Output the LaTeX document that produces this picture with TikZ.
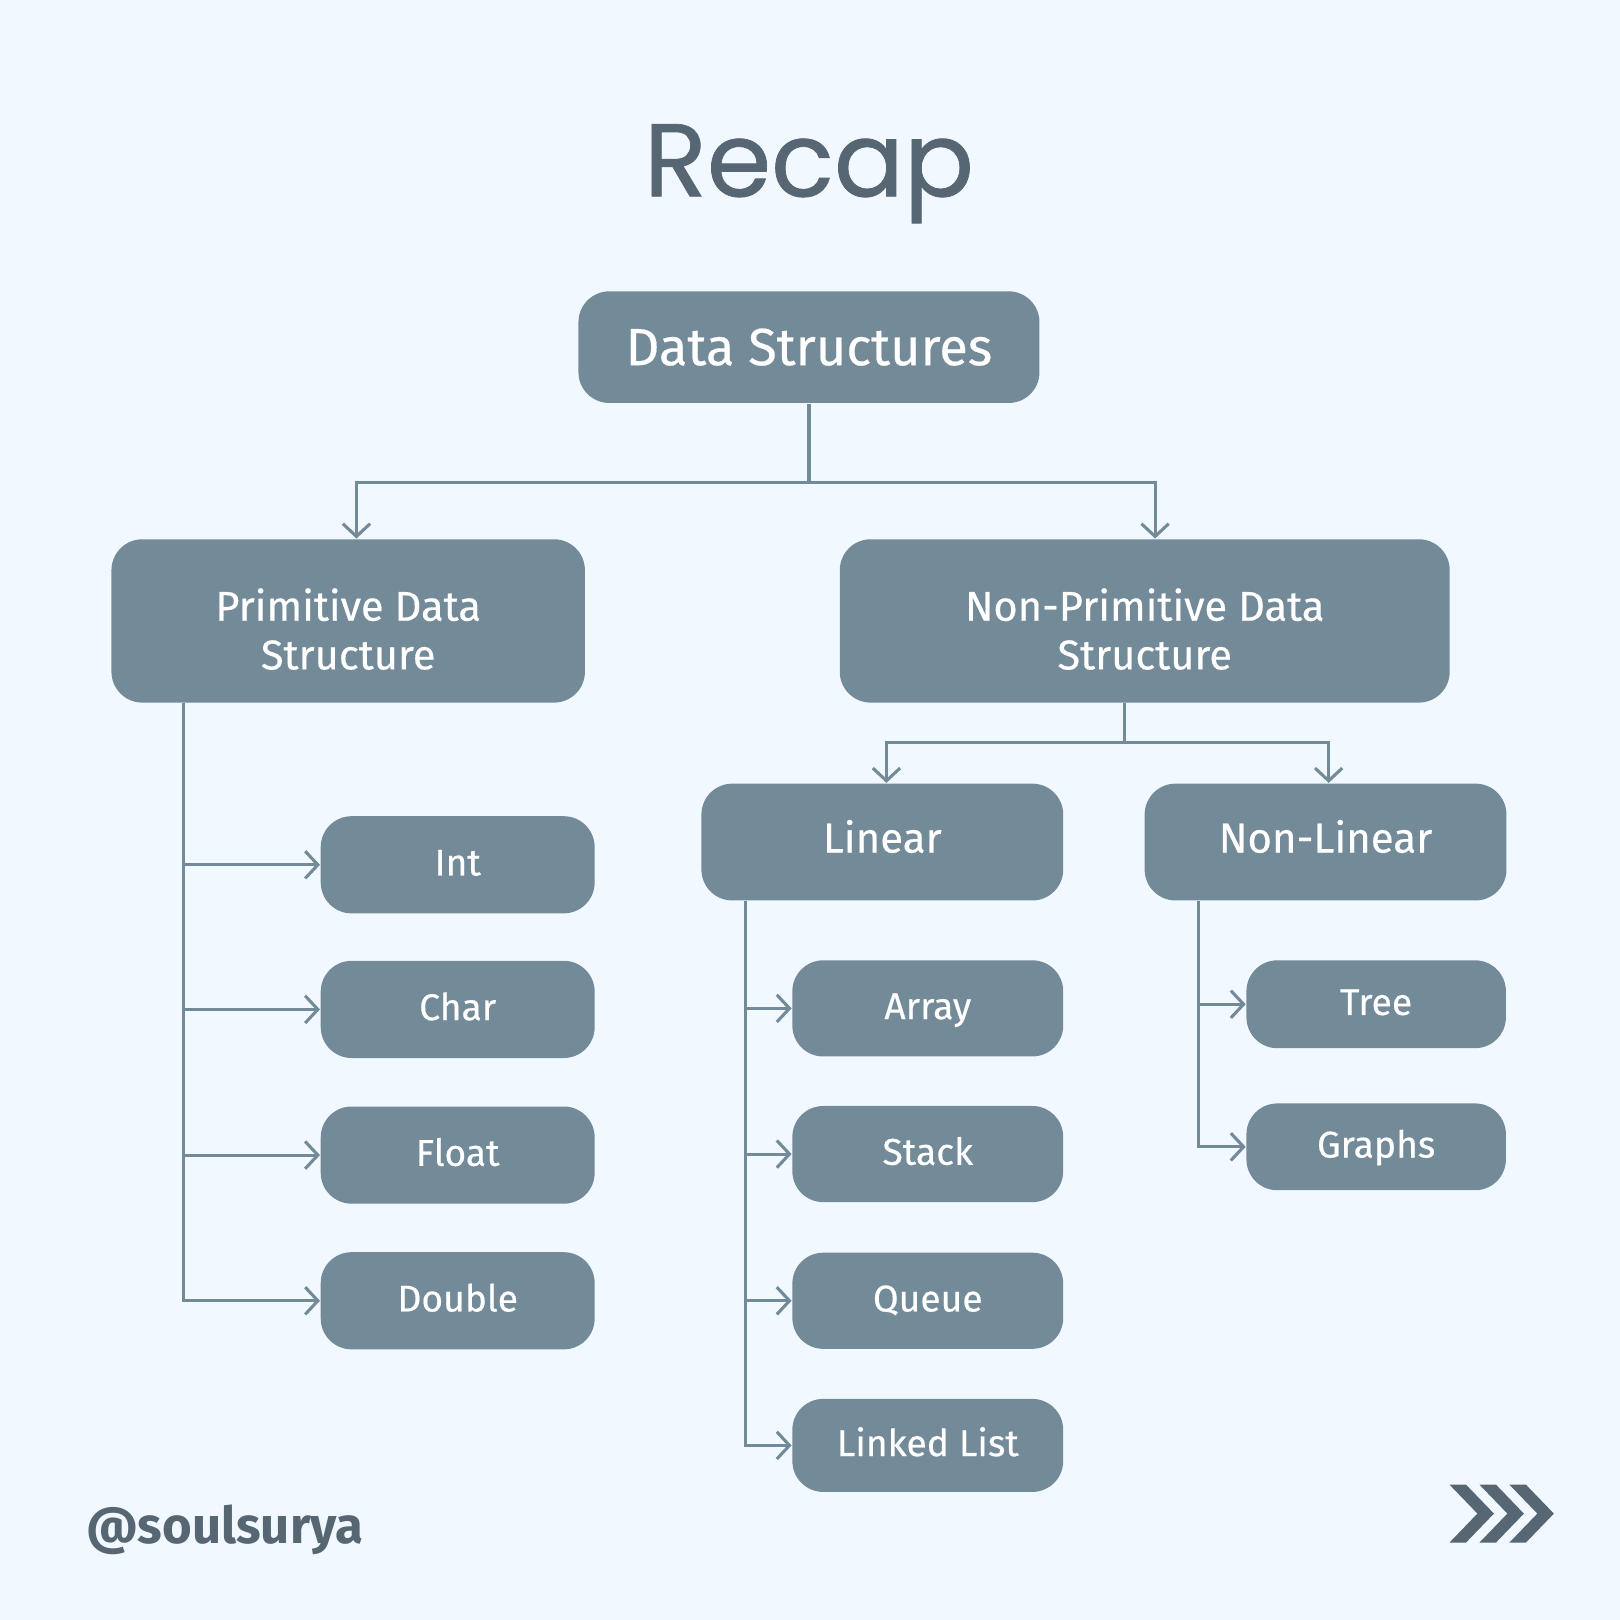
\documentclass[tikz,border=0pt]{standalone}
\usepackage{fontspec}
\setmainfont{Fira Sans}
\newfontfamily\boxfont[FakeBold=0.4]{Fira Sans}
\newfontfamily\titlefont[FakeBold=0.7]{Poppins}
\usepackage{xcolor}
\usetikzlibrary{arrows.meta, positioning}
\definecolor{bgblue}{HTML}{F2F8FF}
\definecolor{slate}{HTML}{738A99}
\definecolor{ink}{HTML}{566773}
\tikzset{
  dsnode/.style = {align=center, inner sep=0pt, text centered,
    fill=slate, text=white, rounded corners=8.5pt},
  rootbox/.style = {dsnode, minimum width=4.46cm, minimum height=1.08cm,
    font=\boxfont\fontsize{14.4}{17}\selectfont, text height=9.9pt, text depth=0pt},
  kindbox/.style = {dsnode, minimum height=1.58cm,
    font=\boxfont\fontsize{11.45}{13.4}\selectfont},
  subbox/.style = {dsnode, minimum width=3.5cm, minimum height=1.13cm,
    font=\boxfont\fontsize{11.55}{14}\selectfont, text height=8pt, text depth=2.2pt},
  leaf/.style = {dsnode, minimum width=2.65cm, minimum height=0.94cm,
    font=\boxfont\fontsize{10.25}{12}\selectfont, text height=7.1pt, text depth=1.2pt},
  link/.style = {draw=slate, line width=0.85pt}
}
\newcommand{\firstline}{\rule{0pt}{13.4pt}}

\begin{document}
\begin{tikzpicture}[x=0.01cm, y=-0.01cm, ->,
  >={Straight Barb[length=3.5pt,width=7.5pt]}]
\fill[bgblue] (0,0) rectangle (1568,1568);
\useasboundingbox (0,0) rectangle (1568,1568);

\node [anchor=base, text=ink, font=\titlefont\fontsize{28.5}{30}\selectfont]
  (title) at (783,190) {Recap};

\node [rootbox] (ds) at (783,336) {Data Structures};
\node [kindbox, minimum width=4.58cm] (prim) at (337,601)
  {\firstline Primitive Data\\Structure};
\node [kindbox, minimum width=5.9cm] (nonprim) at (1108,601)
  {\firstline Non-Primitive Data\\Structure};
\node [subbox] (lin) at (854,815) {Linear};
\node [subbox] (nonlin) at (1283,815) {Non-Linear};

% primitive
\node [leaf] (int)   at (443,837)  {Int};
\node [leaf] (char)  at (443,977)  {Char};
\node [leaf] (float) at (443,1118) {Float};
\node [leaf] (dbl)   at (443,1259) {Double};

% linear
\node [leaf, minimum width=2.62cm, minimum height=0.93cm] (array) at (898,976) {Array};
\node [leaf, minimum width=2.62cm, minimum height=0.93cm] (stack) at (898,1117) {Stack};
\node [leaf, minimum width=2.62cm, minimum height=0.93cm] (queue) at (898,1259) {Queue};
\node [leaf, minimum width=2.62cm, minimum height=0.90cm] (llist) at (898,1399) {Linked List};

% non-linear
\node [leaf, minimum width=2.51cm, minimum height=0.85cm] (tree)   at (1332,972)  {Tree};
\node [leaf, minimum width=2.51cm, minimum height=0.84cm] (graphs) at (1332,1110) {Graphs};

\draw [link] (ds.south) -- ++(0,76) -| ([xshift=0.08cm]prim.north);
\draw [link] (ds.south) -- ++(0,76) -| ([xshift=0.1cm]nonprim.north);
\draw [link] ([xshift=-0.2cm]nonprim.south) -- ++(0,38) -| ([xshift=0.04cm]lin.north);
\draw [link] ([xshift=-0.2cm]nonprim.south) -- ++(0,38) -| ([xshift=0.03cm]nonlin.north);

\foreach \n in {int,char,float,dbl}
  \draw [link] ([xshift=0.7cm]prim.south west) |- (\n.west);
\foreach \n in {array,stack,queue,llist}
  \draw [link] ([xshift=0.43cm]lin.south west) |- (\n.west);
\foreach \n in {tree,graphs}
  \draw [link] ([xshift=0.53cm]nonlin.south west) |- (\n.west);

\node [anchor=base west, inner sep=0pt, text=ink,
  font=\bfseries\fontsize{14}{16}\selectfont] (handle) at (83,1494) {@soulsurya};

\foreach \d in {0,29,58}
  \fill [ink] (1403+\d,1437) -- (1419+\d,1437) -- (1446+\d,1465)
    -- (1419+\d,1493) -- (1403+\d,1493) -- (1430+\d,1465) -- cycle;
\end{tikzpicture}
\end{document}
